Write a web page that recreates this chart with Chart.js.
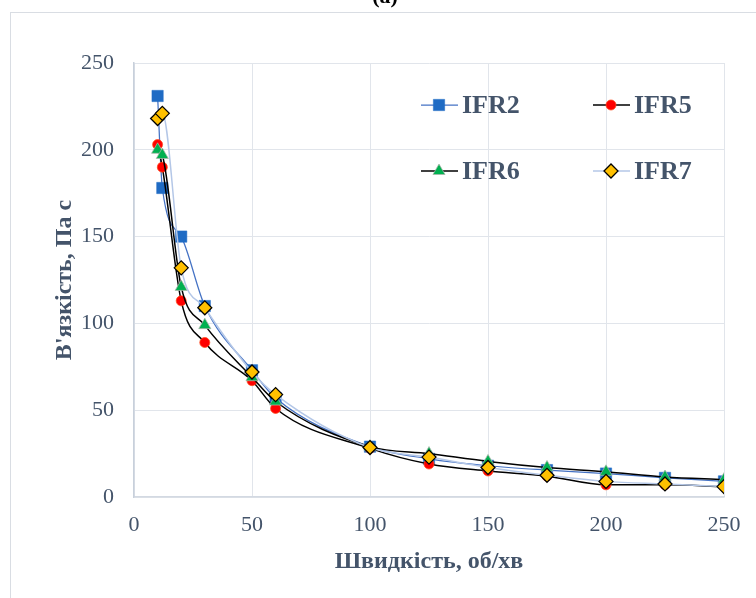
<!DOCTYPE html>
<html>
<head>
<meta charset="utf-8">
<script src="https://cdn.jsdelivr.net/npm/chart.js@4/dist/chart.umd.min.js"></script>
<style>
  body { margin: 0; background: #fff; }
  #wrap { width: 756px; height: 598px; position: relative; overflow: hidden; }
</style>
</head>
<body>
<div id="wrap"><canvas id="viscChart" width="756" height="598"></canvas></div>
<script>
// Швидкість, об/хв
const speeds = [10, 12, 20, 30, 50, 60, 100, 125, 150, 175, 200, 225, 250];

// В'язкість, Па с
const ifr2 = [231, 178, 150, 110, 73, 57, 29, 22, 18, 15.5, 13.5, 11, 9];
const ifr5 = [203, 190, 113, 89, 67, 51, 28, 19, 15, 12, 7, 7, 6];
const ifr6 = [200, 197, 121, 99, 69, 55, 29, 25, 20.5, 17, 14.5, 11.5, 10];
const ifr7 = [218, 221, 132, 109, 72, 59, 28.5, 23, 17, 12.5, 9, 7.5, 6];

const seriesNames = ['IFR2', 'IFR5', 'IFR6', 'IFR7'];
const xTicks = [0, 50, 100, 150, 200, 250];
const yTicks = [0, 50, 100, 150, 200, 250];

const textColor = '#44546A';
const serif = "'Liberation Serif', 'Times New Roman', serif";

function toPoints(values) {
    return speeds.map((x, i) => ({ x: x, y: values[i] }));
}

// рамка та підпис (a)
const framePlugin = {
    id: 'frame',
    beforeDraw(chart) {
        const ctx = chart.ctx;
        ctx.save();
        ctx.strokeStyle = '#D9DDE3';
        ctx.lineWidth = 1;
        ctx.strokeRect(10.5, 12.5, 800, 700);
        ctx.fillStyle = '#000';
        ctx.font = 'bold 22px ' + serif;
        ctx.textAlign = 'center';
        ctx.textBaseline = 'alphabetic';
        ctx.fillText('(a)', 385, 3);
        ctx.restore();
    }
};

// легенда 2x2 всередині графіка
const legendPlugin = {
    id: 'gridLegend',
    afterDatasetsDraw(chart) {
        const ctx = chart.ctx;
        const spots = [
            { x: 421, y: 105 },
            { x: 593, y: 105 },
            { x: 421, y: 171 },
            { x: 593, y: 171 }
        ];
        chart.data.datasets.forEach((ds, i) => {
            const s = spots[i];
            ctx.save();
            ctx.strokeStyle = ds.borderColor;
            ctx.lineWidth = ds.borderWidth;
            ctx.beginPath();
            ctx.moveTo(s.x, s.y);
            ctx.lineTo(s.x + 37, s.y);
            ctx.stroke();
            ctx.fillStyle = ds.pointBackgroundColor;
            ctx.strokeStyle = ds.pointBorderColor;
            ctx.lineWidth = ds.pointBorderWidth;
            Chart.helpers.drawPoint(ctx, {
                pointStyle: ds.pointStyle,
                radius: ds.pointRadius,
                borderWidth: ds.pointBorderWidth,
                rotation: 0
            }, s.x + 18, s.y);
            ctx.fillStyle = textColor;
            ctx.font = 'bold 26px ' + serif;
            ctx.textAlign = 'left';
            ctx.textBaseline = 'middle';
            ctx.fillText(ds.label, s.x + 41, s.y + 1);
            ctx.restore();
        });
    }
};

const ctx = document.getElementById('viscChart').getContext('2d');
new Chart(ctx, {
    type: 'scatter',
    data: {
        datasets: [
            {
                label: seriesNames[0],
                data: toPoints(ifr2),
                showLine: true,
                borderColor: '#4472C4',
                borderWidth: 1.25,
                pointStyle: 'rect',
                pointRadius: 8,
                pointBackgroundColor: '#1F6BC4',
                pointBorderColor: '#1F6BC4',
                pointBorderWidth: 0.5,
                cubicInterpolationMode: 'monotone',
                order: 4
            },
            {
                label: seriesNames[1],
                data: toPoints(ifr5),
                showLine: true,
                borderColor: '#000000',
                borderWidth: 1.5,
                pointStyle: 'circle',
                pointRadius: 5,
                pointBackgroundColor: '#FF0000',
                pointBorderColor: '#FF4A1A',
                pointBorderWidth: 0.75,
                cubicInterpolationMode: 'monotone',
                order: 3
            },
            {
                label: seriesNames[2],
                data: toPoints(ifr6),
                showLine: true,
                borderColor: '#000000',
                borderWidth: 1.5,
                pointStyle: 'triangle',
                pointRadius: 7,
                pointBackgroundColor: '#00B050',
                pointBorderColor: '#A9B5A9',
                pointBorderWidth: 0.75,
                cubicInterpolationMode: 'monotone',
                order: 2
            },
            {
                label: seriesNames[3],
                data: toPoints(ifr7),
                showLine: true,
                borderColor: '#B4C7E7',
                borderWidth: 1.5,
                pointStyle: 'rectRot',
                pointRadius: 7,
                pointBackgroundColor: '#FFC000',
                pointBorderColor: '#000000',
                pointBorderWidth: 1.25,
                cubicInterpolationMode: 'monotone',
                order: 1
            }
        ]
    },
    options: {
        responsive: false,
        animation: false,
        layout: { padding: { top: 63, right: 32, left: 0, bottom: 0 } },
        plugins: {
            legend: { display: false },
            tooltip: { enabled: false }
        },
        scales: {
            x: {
                type: 'linear',
                min: 0,
                max: 250,
                afterBuildTicks: (scale) => { scale.ticks = xTicks.map(v => ({ value: v })); },
                afterFit: (scale) => { scale.height = 101; },
                grid: { color: '#E1E5EB', drawTicks: false },
                border: { color: '#D3D9E2', width: 1.5 },
                ticks: {
                    color: textColor,
                    padding: 15,
                    font: { family: serif, size: 22 }
                },
                title: {
                    display: true,
                    text: 'Швидкість, об/хв',
                    color: textColor,
                    padding: { top: 0, bottom: 22 },
                    font: { family: serif, size: 24, weight: 'bold' }
                }
            },
            y: {
                type: 'linear',
                min: 0,
                max: 250,
                afterBuildTicks: (scale) => { scale.ticks = yTicks.map(v => ({ value: v })); },
                afterFit: (scale) => { scale.width = 134; },
                grid: { color: '#E1E5EB', drawTicks: false },
                border: { color: '#C8D0DB', width: 1.5 },
                ticks: {
                    color: textColor,
                    padding: 20,
                    font: { family: serif, size: 22 }
                },
                title: {
                    display: true,
                    text: "В'язкість, Па с",
                    color: textColor,
                    padding: { top: 50, bottom: 0 },
                    font: { family: serif, size: 24, weight: 'bold' }
                }
            }
        }
    },
    plugins: [framePlugin, legendPlugin]
});
</script>
</body>
</html>
